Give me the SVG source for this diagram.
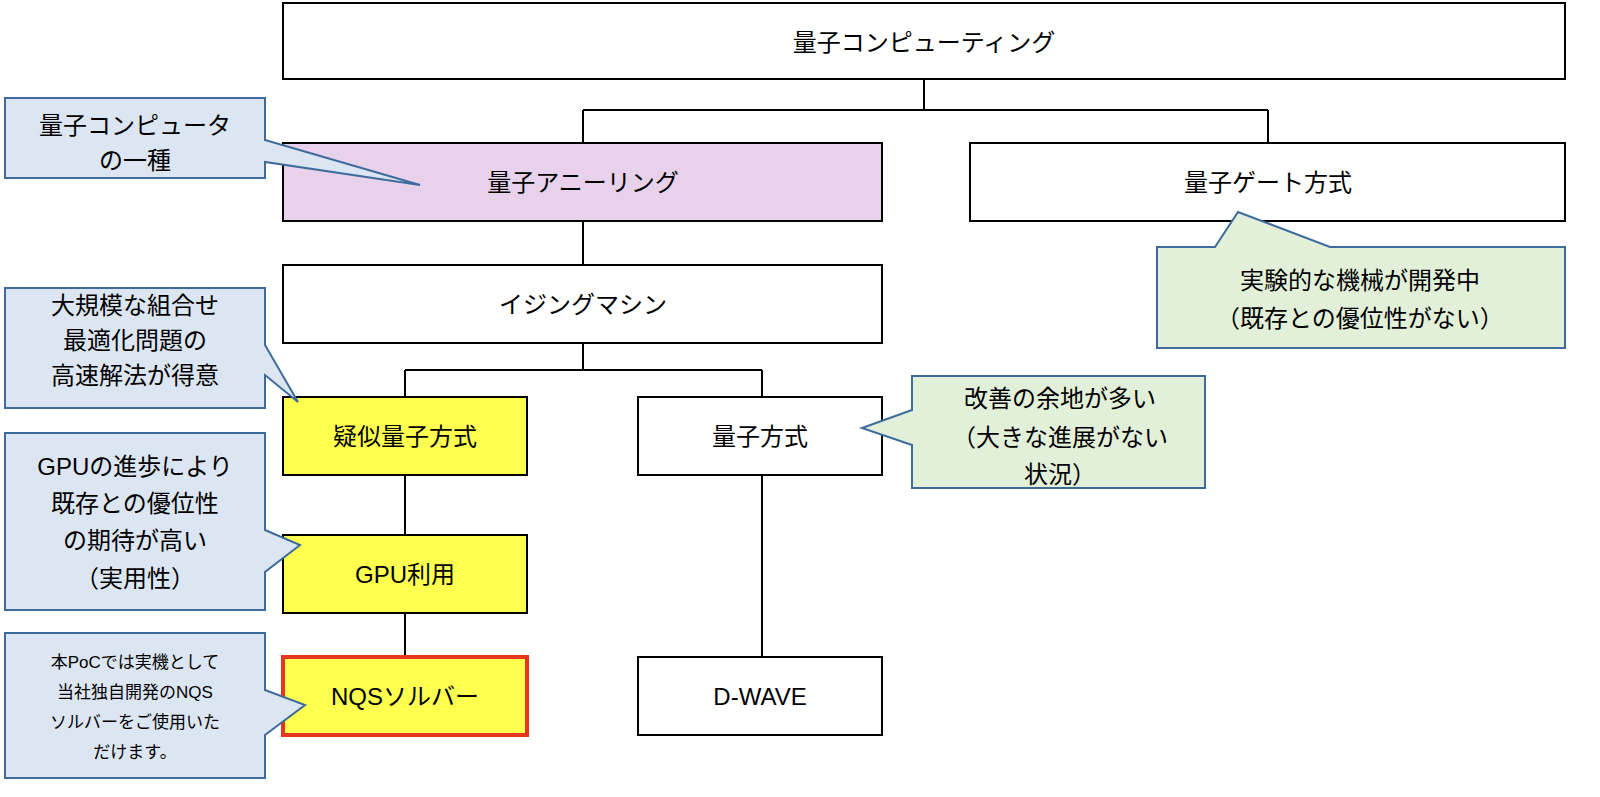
<svg xmlns="http://www.w3.org/2000/svg" width="1600" height="797" viewBox="0 0 1600 797">
<style>
.b{stroke:#000;stroke-width:2;fill:#fff}
.t{font-family:"Liberation Sans","Noto Sans CJK JP",sans-serif;font-size:24px;text-anchor:middle;dominant-baseline:central;fill:#000}
.s{font-size:17px}
.cb{fill:#dce6f2;stroke:#3e6b9c;stroke-width:2}
.cg{fill:#e2f0d9;stroke:#3e6b9c;stroke-width:2}
</style>
<rect width="1600" height="797" fill="#fff"/>
<g id="connectors" stroke="#000" stroke-width="2" fill="none">
<path d="M924,79V110M583,110H1268M583,110V143M1268,110V143M583,221V265M583,343V370M405,370H762M405,370V397M762,370V397M405,475V535M405,613V657M762,475V657"/>
</g>
<g id="n1"><rect class="b" x="283" y="3" width="1282" height="76"/><text class="t" x="924" y="42">量子コンピューティング</text></g>
<g id="n2"><rect class="b" x="283" y="143" width="599" height="78" fill="#e8d1ea" style="fill:#e8d1ea"/><text class="t" x="583" y="182">量子アニーリング</text></g>
<g id="n3"><rect class="b" x="970" y="143" width="595" height="78"/><text class="t" x="1268" y="182">量子ゲート方式</text></g>
<g id="n4"><rect class="b" x="283" y="265" width="599" height="78"/><text class="t" x="583" y="304">イジングマシン</text></g>
<g id="n5"><rect class="b" x="283" y="397" width="244" height="78" style="fill:#ffff4f"/><text class="t" x="405" y="436">疑似量子方式</text></g>
<g id="n6"><rect class="b" x="638" y="397" width="244" height="78"/><text class="t" x="760" y="436">量子方式</text></g>
<g id="n7"><rect class="b" x="283" y="535" width="244" height="78" style="fill:#ffff4f"/><text class="t" x="405" y="574">GPU利用</text></g>
<g id="n8"><rect x="283" y="657" width="244" height="78" fill="#ffff4f" stroke="#e8361e" stroke-width="4"/><text class="t" x="405" y="696">NQSソルバー</text></g>
<g id="n9"><rect class="b" x="638" y="657" width="244" height="78"/><text class="t" x="760" y="696">D-WAVE</text></g>
<g id="c1"><path class="cb" d="M5,98H265V140L420,185L265,162V178H5Z"/><text class="t" x="135" y="125">量子コンピュータ</text><text class="t" x="135" y="160">の一種</text></g>
<g id="c2"><path class="cb" d="M5,288H265V345L298,402L265,375V408H5Z"/><text class="t" x="135" y="305">大規模な組合せ</text><text class="t" x="135" y="340">最適化問題の</text><text class="t" x="135" y="375">高速解法が得意</text></g>
<g id="c3"><path class="cb" d="M5,433H265V530L300,545L265,572V610H5Z"/><text class="t" x="135" y="466">GPUの進歩により</text><text class="t" x="135" y="503">既存との優位性</text><text class="t" x="135" y="540">の期待が高い</text><text class="t" x="135" y="578">（実用性）</text></g>
<g id="c4"><path class="cb" d="M5,633H265V690L305,705L265,735V778H5Z"/><text class="t s" x="135" y="662">本PoCでは実機として</text><text class="t s" x="135" y="692">当社独自開発のNQS</text><text class="t s" x="135" y="722">ソルバーをご使用いた</text><text class="t s" x="135" y="752">だけます。</text></g>
<g id="c5"><path class="cg" d="M912,376H1205V488H912V445L862,428L912,410Z"/><text class="t" x="1060" y="398">改善の余地が多い</text><text class="t" x="1060" y="437">（大きな進展がない</text><text class="t" x="1060" y="474">状況）</text></g>
<g id="c6"><path class="cg" d="M1157,247H1215L1238,212L1330,247H1565V348H1157Z"/><text class="t" x="1360" y="280">実験的な機械が開発中</text><text class="t" x="1360" y="318">（既存との優位性がない）</text></g>
</svg>
